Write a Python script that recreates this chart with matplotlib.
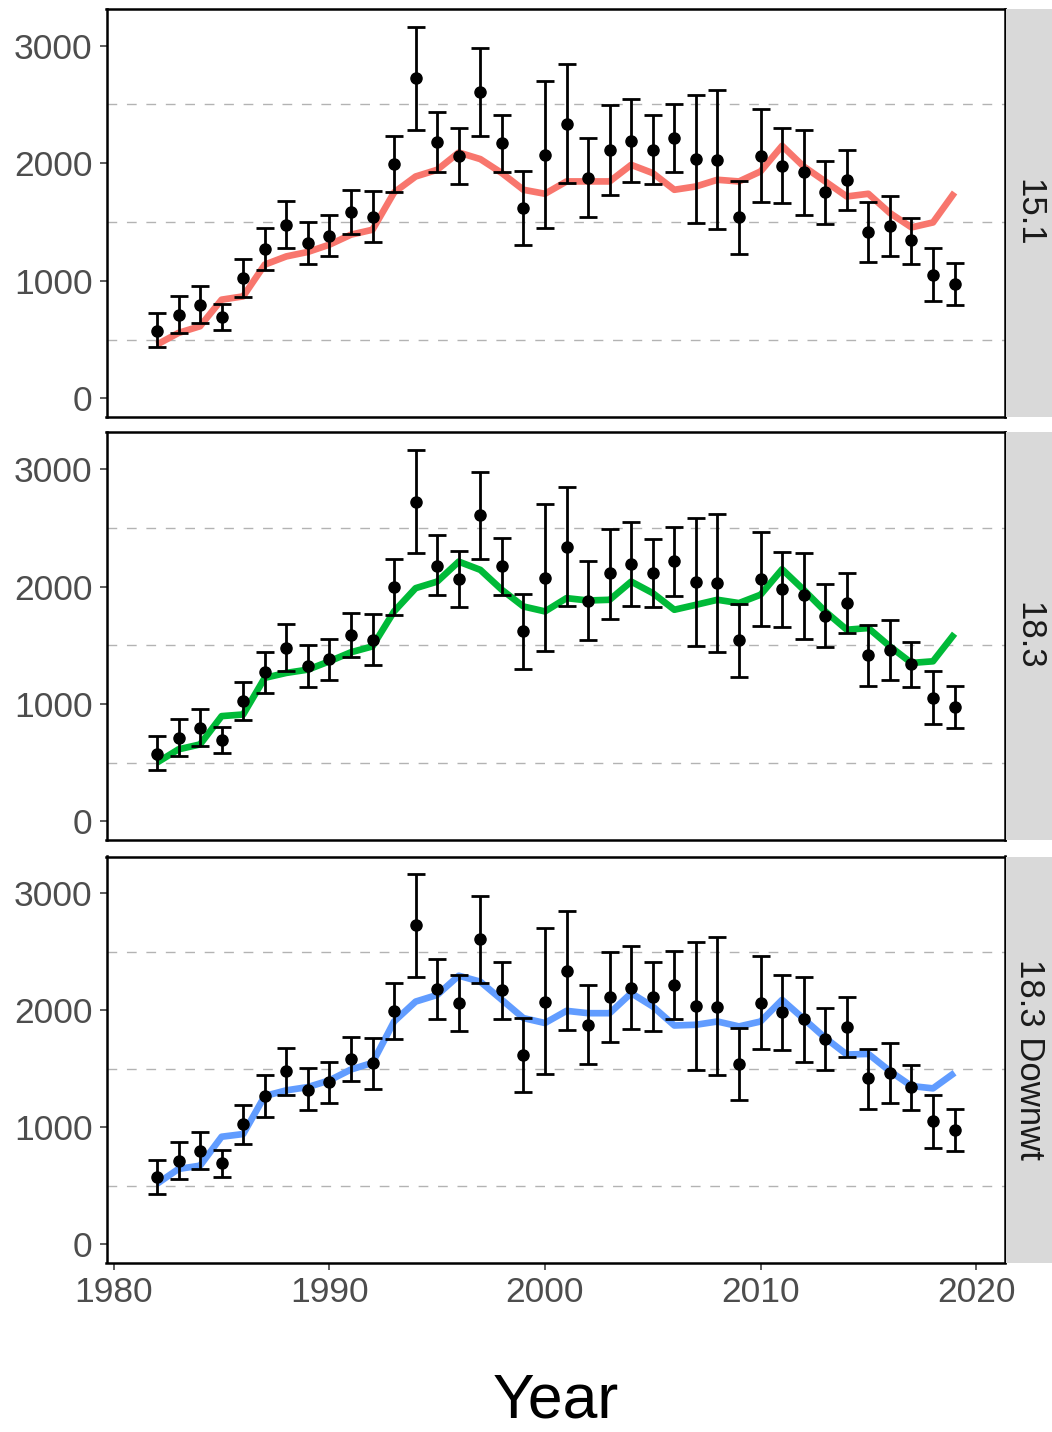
import numpy as np
import matplotlib
matplotlib.use('Agg')
import matplotlib.pyplot as plt

plt.rcParams['font.family'] = ['Liberation Sans', 'DejaVu Sans']
plt.rcParams['lines.scale_dashes'] = False

years = list(range(1982, 2020))
obs = [576, 712, 797, 692, 1024, 1270, 1477, 1321, 1383, 1585, 1545,
       1992, 2723, 2179, 2063, 2607, 2171, 1619, 2071,
       2337, 1873, 2111, 2193, 2114, 2218, 2035, 2031, 1542, 2065,
       1980, 1924, 1751, 1859, 1417, 1462, 1343, 1052, 973]
upper = [723, 873, 958, 805, 1188, 1445, 1678, 1502, 1556, 1771, 1765,
         2233, 3161, 2437, 2303, 2978, 2411, 1935, 2700,
         2844, 2218, 2494, 2550, 2409, 2507, 2581, 2621, 1850, 2465,
         2298, 2284, 2020, 2111, 1669, 1717, 1530, 1279, 1154]
lower = [434, 556, 641, 579, 859, 1089, 1279, 1143, 1207, 1397, 1330,
         1754, 2286, 1924, 1825, 2233, 1927, 1301, 1451,
         1831, 1542, 1726, 1836, 1822, 1921, 1491, 1443, 1230, 1666,
         1658, 1556, 1485, 1604, 1156, 1207, 1145, 825, 797]

fit_151 = [457, 556, 613, 839, 867, 1137, 1207, 1245, 1307, 1392, 1434,
           1751, 1887, 1944, 2091, 2035, 1916, 1774, 1740,
           1845, 1845, 1845, 1986, 1916, 1774, 1802, 1859, 1845, 1930,
           2148, 1972, 1845, 1717, 1740, 1576, 1454, 1496, 1751]
fit_183 = [500, 613, 655, 896, 910, 1222, 1264, 1292, 1363, 1440, 1490,
           1788, 1986, 2042, 2212, 2142, 1972, 1830, 1788,
           1901, 1881, 1887, 2042, 1944, 1802, 1844, 1887, 1859, 1930,
           2147, 1972, 1788, 1632, 1646, 1490, 1349, 1363, 1598]
fit_183dw = [517, 644, 672, 919, 942, 1267, 1315, 1343, 1400, 1493, 1550,
             1903, 2073, 2130, 2294, 2243, 2088, 1932, 1890,
             1994, 1974, 1974, 2145, 2031, 1869, 1875, 1903, 1861, 1903,
             2088, 1926, 1763, 1621, 1626, 1479, 1352, 1332, 1465]

panels = ['15.1', '18.3', '18.3 Downwt']
fits = [fit_151, fit_183, fit_183dw]
colors = ['#F8766D', '#00BA38', '#619CFF']

W, H = 1052, 1432
fig = plt.figure(figsize=(W / 100, H / 100), dpi=100)

# 面板像素位置 (top, bottom)
rows = [(9, 416.5), (432.5, 839.5), (856.5, 1262.5)]
left_px, right_px = 106.5, 1005

yerr = [np.array(obs) - np.array(lower), np.array(upper) - np.array(obs)]

for i, (top, bot) in enumerate(rows):
    ax = fig.add_axes([left_px / W, 1 - bot / H, (right_px - left_px) / W, (bot - top) / H])
    for g in [500, 1500, 2500]:
        ax.axhline(g, color='#B3B3B3', lw=1.0, dashes=(7, 7), zorder=1)
    ax.plot(years, fits[i], color=colors[i], lw=4.8, zorder=2, solid_capstyle='butt')
    ax.errorbar(years, obs, yerr=yerr, fmt='o', color='black', ms=8,
                elinewidth=2.0, capsize=6.8, capthick=2.0, zorder=3)
    ax.set_xlim(1979.66, 2021.34)
    ax.set_ylim(-155, 3312)
    ax.set_yticks([0, 1000, 2000, 3000])
    ax.set_xticks([1980, 1990, 2000, 2010, 2020])
    ax.tick_params(axis='both', length=5, width=1.1, color='#333333',
                   labelsize=25.5, labelcolor='#4D4D4D')
    ax.tick_params(axis='y', pad=5)
    ax.tick_params(axis='x', pad=5)
    if i < 2:
        ax.tick_params(axis='x', labelbottom=False, length=0)
    for s in ax.spines.values():
        s.set_linewidth(1.8)
        s.set_color('black')

    # 右侧分面标签
    sx = fig.add_axes([1006 / W, 1 - bot / H, (W - 1006) / W, (bot - top) / H])
    sx.set_facecolor('#D9D9D9')
    sx.set_xticks([]); sx.set_yticks([])
    for s in sx.spines.values():
        s.set_visible(False)
    sx.text(0.5, 0.5, panels[i], rotation=270, ha='center', va='center',
            fontsize=25, color='#1A1A1A', transform=sx.transAxes)

fig.text(556 / W, 1 - 1401 / H, 'Year', ha='center', va='center', fontsize=45, color='black')

fig.savefig('out.png', dpi=100)
